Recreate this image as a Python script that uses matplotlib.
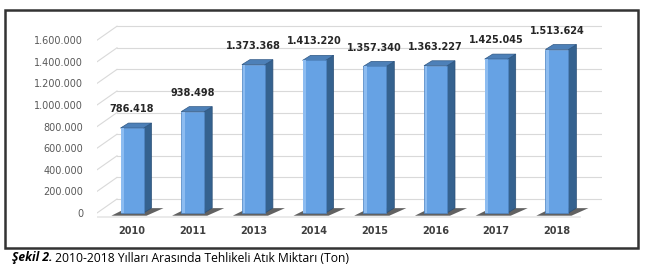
import matplotlib
matplotlib.use("Agg")
import matplotlib.pyplot as plt
from matplotlib.patches import Polygon, Rectangle

# data
years = ["2010", "2011", "2013", "2014", "2015", "2016", "2017", "2018"]
waste = [786418, 938498, 1373368, 1413220, 1357340, 1363227, 1425045, 1513624]
value_labels = ["786.418", "938.498", "1.373.368", "1.413.220", "1.357.340",
                "1.363.227", "1.425.045", "1.513.624"]
yticks = [0, 200000, 400000, 600000, 800000, 1000000, 1200000, 1400000, 1600000]
ytick_labels = ["0", "200.000", "400.000", "600.000", "800.000", "1.000.000",
                "1.200.000", "1.400.000", "1.600.000"]
caption_bold = "Şekil 2."
caption_rest = " 2010-2018 Yılları Arasında Tehlikeli Atık Miktarı (Ton)"

W, H = 646, 275
fig = plt.figure(figsize=(W / 100, H / 100), dpi=100)

# axes placed in pixel terms
ymin, ymax = -60000, 1800000
px_per_unit = 21.6 / 200000
ax_left, ax_right = 97, 602
ax_bottom = 213 + (-ymin) * px_per_unit
ax_top = 213 - ymax * px_per_unit
ax = fig.add_axes([ax_left / W, 1 - ax_bottom / H,
                   (ax_right - ax_left) / W, (ax_bottom - ax_top) / H])
step = 60.7
x_lo = (ax_left - 132) / step
x_hi = (ax_right - 132) / step
ax.set_xlim(x_lo, x_hi)
ax.set_ylim(ymin, ymax)
for s in ax.spines.values():
    s.set_visible(False)
ax.set_facecolor("none")

# depth offsets for the fake 3d look
wall_dx = 20 / step
wall_dy = 14 / px_per_unit
grid_c = "#d9d9d9"
for v in yticks:
    ax.plot([x_lo, x_lo + wall_dx], [v, v + wall_dy], color=grid_c, lw=0.8, zorder=1)
    ax.plot([x_lo + wall_dx, x_hi], [v + wall_dy, v + wall_dy], color=grid_c, lw=0.8, zorder=1)
# floor front edge
ax.plot([x_lo, (580 - 132) / step], [-35000, -35000], color="#e6e6e6", lw=1.2, zorder=1)

ax.set_yticks(yticks)
ax.set_yticklabels(ytick_labels, fontsize=7, color="#595959")
ax.tick_params(axis="y", length=0, pad=10)
ax.set_xticks(range(len(years)))
ax.set_xticklabels(years, fontsize=7, color="#404040", fontweight="bold")
ax.tick_params(axis="x", length=0, pad=5)

bw = 23 / step
sdx = 8 / step
sdy = 5 / px_per_unit
for i, v in enumerate(waste):
    x0 = i - bw / 2
    x1 = i + bw / 2
    # floor shadow
    ax.add_patch(Polygon([(x0 - 0.15, -25000), (x1 + 0.05, -25000),
                          (x1 + 0.33, 45000), (x0 + 0.1, 45000)],
                         closed=True, fc="#3a3a3a", ec="none", alpha=0.8, zorder=2))
    # side face
    ax.add_patch(Polygon([(x1, 0), (x1 + sdx, sdy), (x1 + sdx, v + sdy), (x1, v)],
                         closed=True, fc="#35628f", ec="#2a4f76", lw=0.5, zorder=3))
    # top cap
    ax.add_patch(Polygon([(x0, v), (x1, v), (x1 + sdx, v + sdy), (x0 + sdx, v + sdy)],
                         closed=True, fc="#4d80b8", ec="#2f5885", lw=0.5, zorder=3))
    # front face
    ax.add_patch(Rectangle((x0, 0), bw, v, fc="#66a2e4", ec="#4f86c4", lw=0.5, zorder=4))
    ax.add_patch(Rectangle((x0 + 0.01, 0), bw * 0.12, v, fc="#8dbcf0", ec="none", zorder=4))
    ax.annotate(value_labels[i], (i, v), xytext=(0, 10), textcoords="offset points",
                ha="center", va="bottom", fontsize=7, fontweight="bold", color="#262626")

# frame around the chart
fig.patches.append(Rectangle((5 / W, 1 - 248 / H), 633 / W, 238 / H,
                             transform=fig.transFigure, fill=False,
                             ec="#333333", lw=1.8))

t1 = fig.text(12 / W, 1 - 258 / H, caption_bold, fontsize=8.7, family="Open Sans",
              fontweight="bold", fontstyle="italic", va="center", ha="left")
ax.annotate(caption_rest, xy=(1, 0.5), xycoords=t1, va="center", ha="left",
            fontsize=8.7, family="Open Sans", annotation_clip=False)

fig.savefig("out.png", dpi=100)
